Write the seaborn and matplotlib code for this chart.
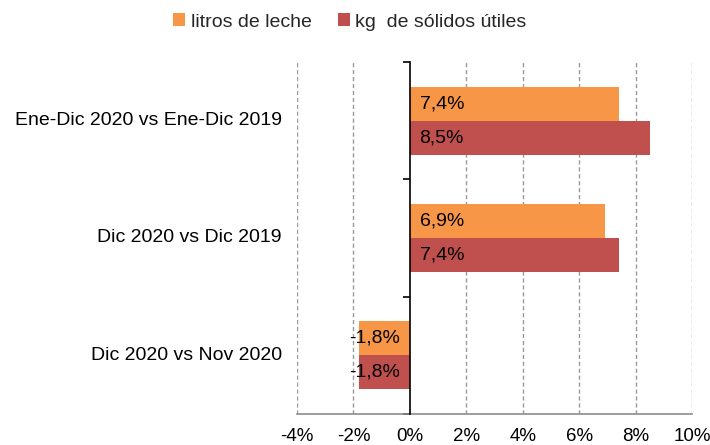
import matplotlib
matplotlib.use("Agg")
import matplotlib.pyplot as plt
import matplotlib.transforms as mtransforms
import seaborn as sns
import pandas as pd

categories = ["Ene-Dic 2020 vs Ene-Dic 2019", "Dic 2020 vs Dic 2019", "Dic 2020 vs Nov 2020"]
series = ["litros de leche", "kg  de sólidos útiles"]
litros = [7.4, 6.9, -1.8]
solidos = [8.5, 7.4, -1.8]
xticks = [-4, -2, 0, 2, 4, 6, 8, 10]
colors = ["#F79646", "#C0504D"]

df = pd.DataFrame({
    "cat": categories * 2,
    "serie": [series[0]] * 3 + [series[1]] * 3,
    "val": litros + solidos,
})

sns.set_theme(style="white")
plt.rcParams["font.family"] = ["Liberation Sans", "DejaVu Sans"]

FS = 14

fig = plt.figure(figsize=(7.1, 4.45), dpi=100)
ax = fig.add_axes([297 / 710, 1 - 414 / 445, (692 - 297) / 710, (414 - 62) / 445])

sns.barplot(data=df, x="val", y="cat", hue="serie", order=categories, hue_order=series,
            palette=colors, width=0.58, orient="h", ax=ax, legend=True, saturation=1,
            edgecolor="none", linewidth=0)

ax.set_xlim(-4, 10)
ax.set_ylim(2.5, -0.5)
ax.set_xticks(xticks)
ax.set_xticklabels([f"{t}%" for t in xticks], fontsize=13.5, color="#000000")
ax.set_xlabel("")
ax.set_ylabel("")

# grid
for t in xticks:
    if t != 0:
        ax.axvline(t, color="#999999", linestyle=(0, (3, 2)), linewidth=1, zorder=0)

for s in ["top", "right"]:
    ax.spines[s].set_visible(False)
ax.spines["bottom"].set_color("#8C8C8C")
ax.spines["bottom"].set_linewidth(1.2)
ax.spines["left"].set_position(("data", 0))
ax.spines["left"].set_color("#000000")
ax.spines["left"].set_linewidth(1.2)
ax.spines["left"].set_zorder(5)

ax.tick_params(axis="x", direction="inout", length=6, width=1, color="#8C8C8C", pad=7)
ax.set_yticks([-0.5, 0.5, 1.5, 2.5])
ax.set_yticklabels([])
ax.tick_params(axis="y", direction="out", length=5, width=1.2, color="#000000", left=True)

# category labels at left of plot area
trans = mtransforms.blended_transform_factory(ax.transAxes, ax.transData)
for i, c in enumerate(categories):
    ax.text(-0.038, i, c, transform=trans, ha="right", va="center", fontsize=FS, color="#000000")

# value labels at inside base
for cont in ax.containers:
    for bar in cont:
        v = bar.get_width()
        yc = bar.get_y() + bar.get_height() / 2
        lab = f"{v:.1f}%".replace(".", ",")
        if v >= 0:
            ax.annotate(lab, (0, yc), xytext=(7, 0), textcoords="offset points",
                        ha="left", va="center", fontsize=FS, color="#000000", zorder=6)
        else:
            ax.annotate(lab, (0, yc), xytext=(-7, 0), textcoords="offset points",
                        ha="right", va="center", fontsize=FS, color="#000000", zorder=6)

leg = ax.legend(loc="center", bbox_to_anchor=(350 / 710, 1 - 22 / 445), bbox_transform=fig.transFigure,
                ncol=2, frameon=False, fontsize=FS, handlelength=0.6, handleheight=0.6,
                handletextpad=0.3, columnspacing=1.35)

fig.savefig("out.png", dpi=100)
